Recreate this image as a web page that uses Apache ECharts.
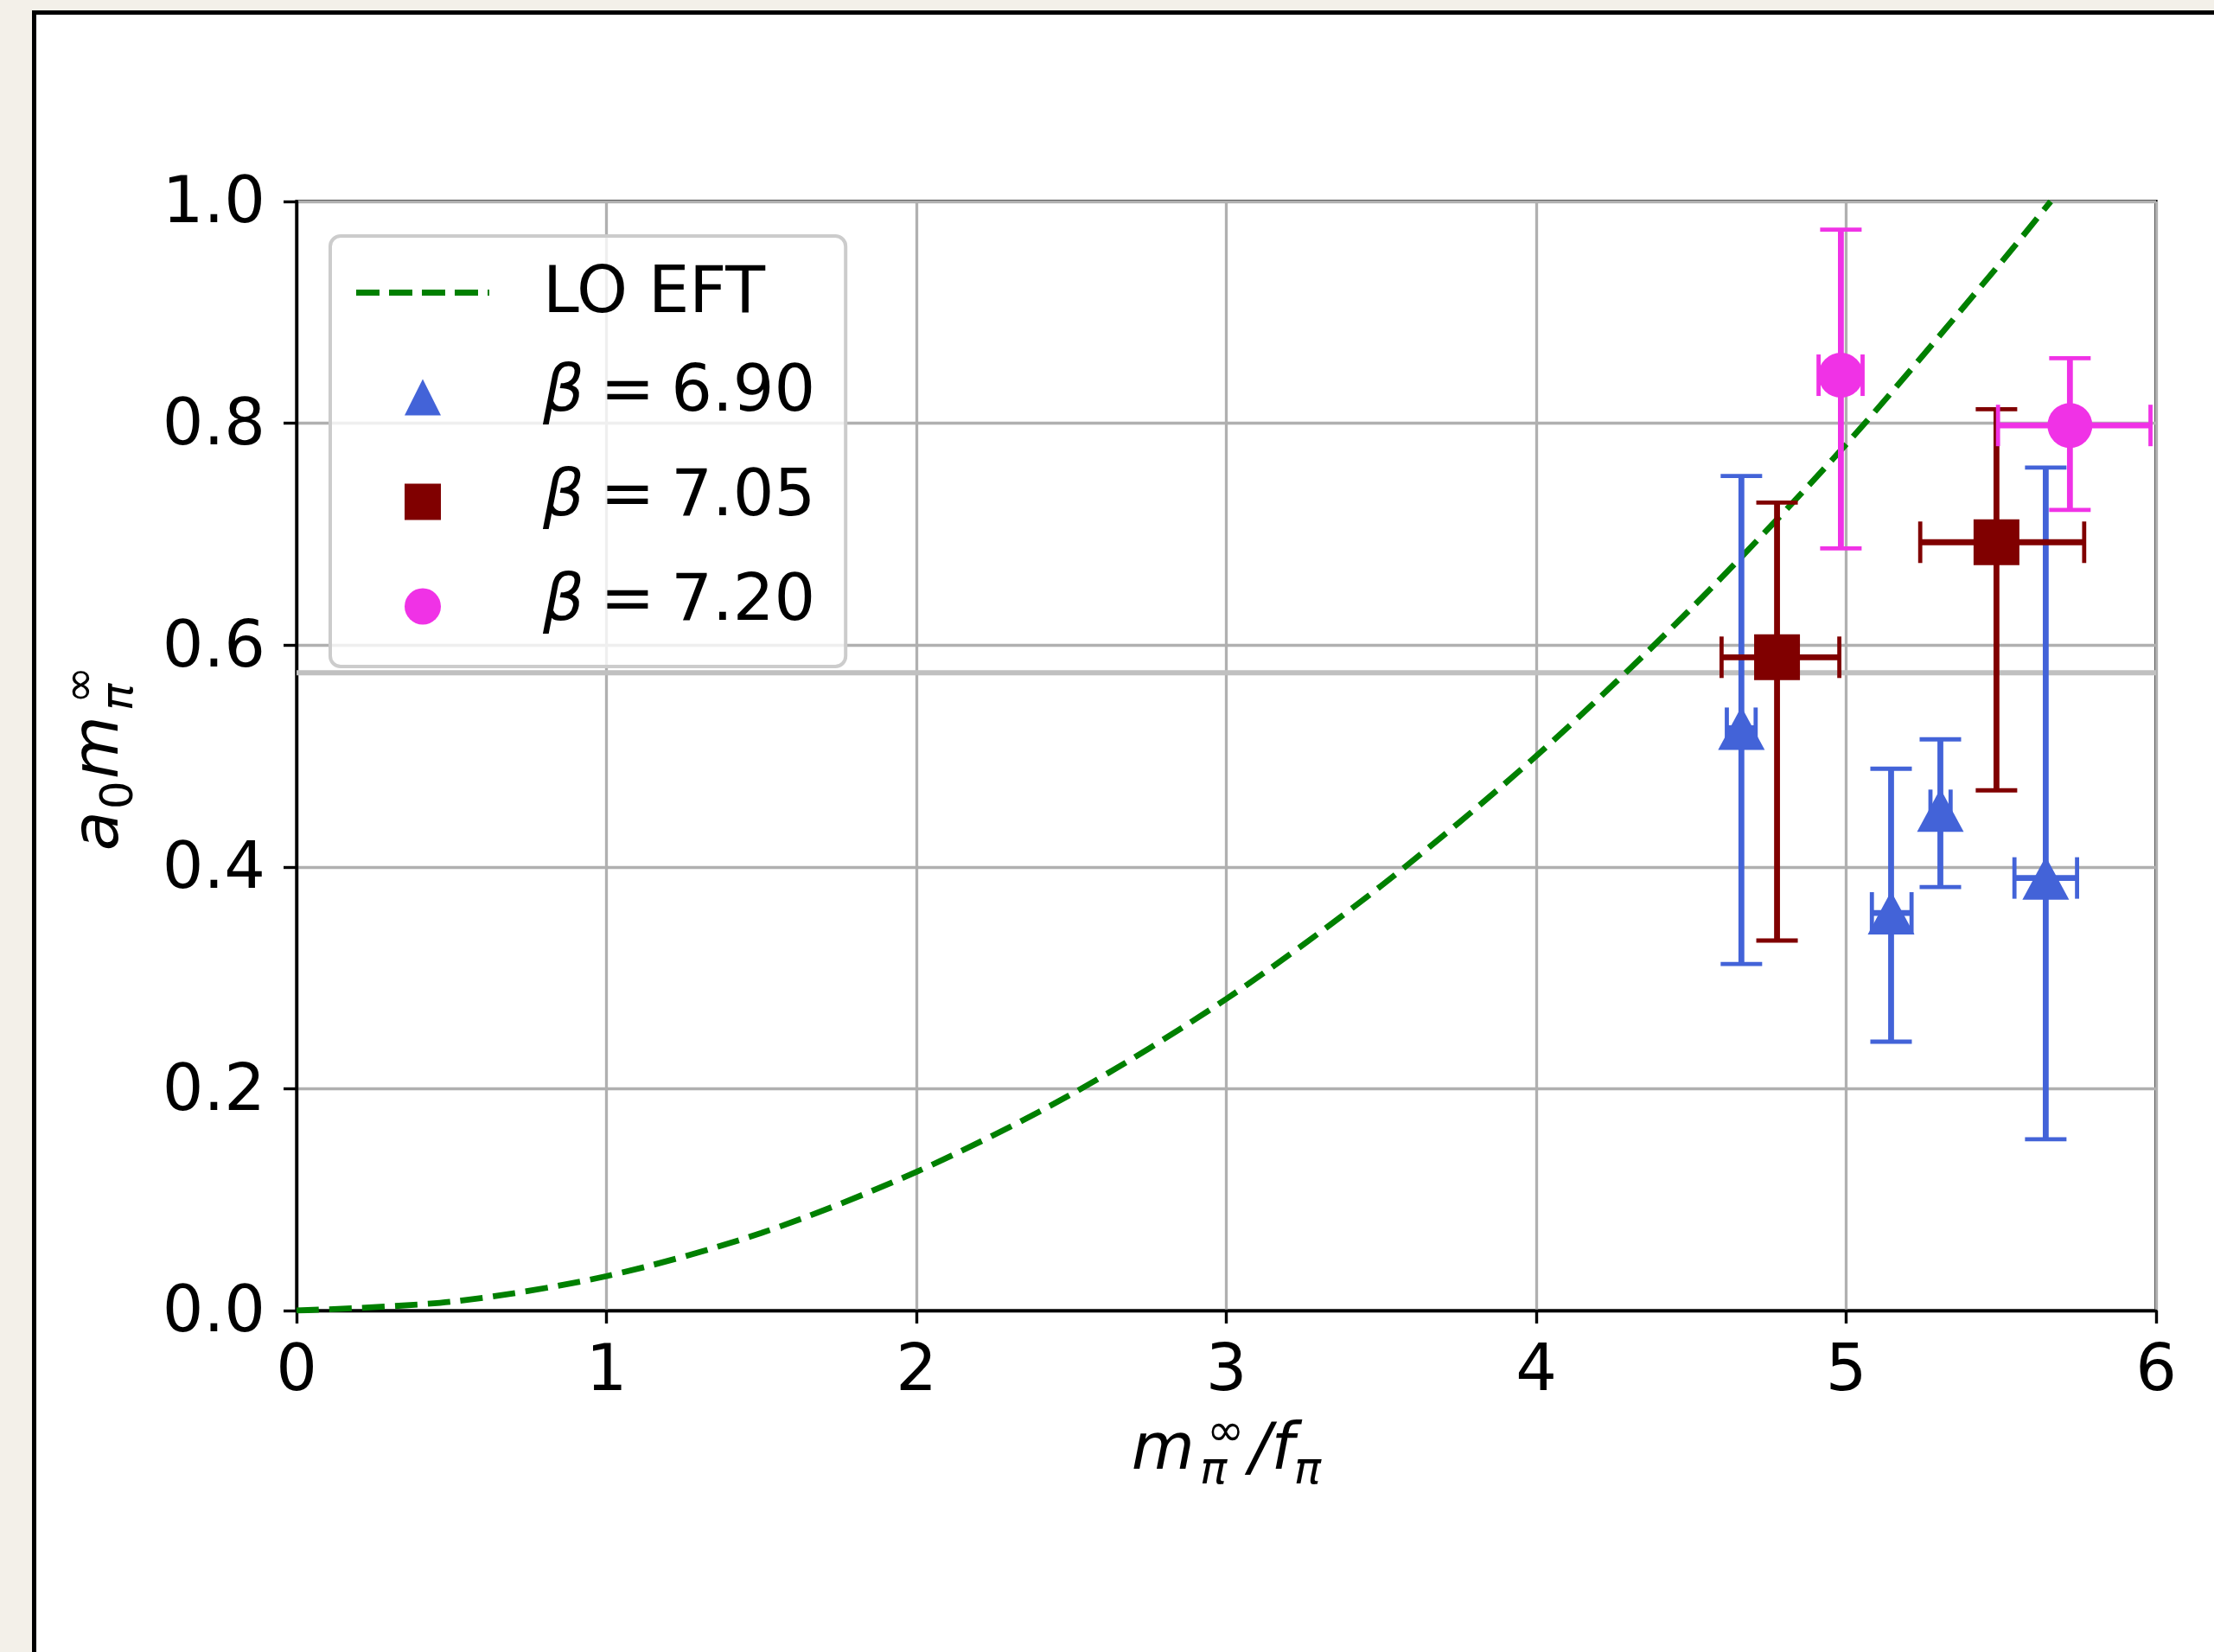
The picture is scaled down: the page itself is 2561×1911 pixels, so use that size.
<!DOCTYPE html>
<html><head><meta charset="utf-8">
<script src="https://cdn.jsdelivr.net/npm/echarts@6/dist/echarts.min.js"></script>
<style>
html,body{margin:0;padding:0;width:2561px;height:1911px;overflow:hidden;background:#f3f0e9;}
#card{position:absolute;left:37px;top:12px;width:2600px;height:2000px;background:#fff;border-top:5px solid #000;border-left:5px solid #000;box-sizing:border-box;}
#chart{position:absolute;left:0;top:0;width:2561px;height:1911px;}
</style></head><body><div id="card"></div><div id="chart"></div>
<script>
// ---- data ----
const xTicks = [0, 1, 2, 3, 4, 5, 6];
const yTickLabels = ['0.0', '0.2', '0.4', '0.6', '0.8', '1.0'];
const seriesNames = ['LO EFT', 'β = 6.90', 'β = 7.05', 'β = 7.20'];

// LO EFT curve
const curveX = [0, 0.5, 1.0, 1.5, 2.0, 2.5, 3.0, 3.5, 4.0, 4.5, 5.0, 5.5, 5.66];
const curveY = [0, 0.008, 0.031, 0.070, 0.125, 0.195, 0.281, 0.383, 0.500, 0.633, 0.781, 0.945, 1.000];

// horizontal reference line
const refLine = 0.575;

// beta = 6.90
const b690X   = [4.662, 5.145, 5.304, 5.644];
const b690Y   = [0.525, 0.3585, 0.451, 0.390];
const b690XLo = [4.615, 5.083, 5.272, 5.543];
const b690XHi = [4.708, 5.211, 5.337, 5.745];
const b690YLo = [0.3125, 0.2424, 0.3818, 0.1545];
const b690YHi = [0.7525, 0.4885, 0.515, 0.760];

// beta = 7.05
const b705X   = [4.777, 5.485];
const b705Y   = [0.589, 0.6927];
const b705XLo = [4.598, 5.239];
const b705XHi = [4.978, 5.768];
const b705YLo = [0.3336, 0.469];
const b705YHi = [0.7285, 0.8127];

// beta = 7.20
const b720X   = [4.983, 5.722];
const b720Y   = [0.8433, 0.798];
const b720XLo = [4.911, 5.490];
const b720XHi = [5.053, 5.982];
const b720YLo = [0.6871, 0.7219];
const b720YHi = [0.9745, 0.8586];

// ---- styling ----
const FONT = 'DejaVu Sans';
const BLUE = '#4363d8', MAROON = '#800000', MAGENTA = '#f032e6', GREEN = '#008000';

function rows(X, Y, XL, XH, YL, YH) {
  return X.map((x, i) => [x, Y[i], XL[i], XH[i], YL[i], YH[i]]);
}
function pts(X, Y) { return X.map((x, i) => [x, Y[i]]); }

function errRender(color) {
  return function (params, api) {
    const x = api.value(0), y = api.value(1);
    const pl = api.coord([api.value(2), y]), pr = api.coord([api.value(3), y]);
    const pb = api.coord([x, api.value(4)]), pt = api.coord([x, api.value(5)]);
    const h = 24;
    const ls = { stroke: color, lineWidth: 6.8, fill: null };
    const cs = { stroke: color, lineWidth: 4.8, fill: null };
    return {
      type: 'group',
      children: [
        { type: 'line', shape: { x1: pb[0], y1: pb[1], x2: pt[0], y2: pt[1] }, style: ls },
        { type: 'line', shape: { x1: pl[0], y1: pl[1], x2: pr[0], y2: pr[1] }, style: ls },
        { type: 'line', shape: { x1: pt[0] - h, y1: pt[1], x2: pt[0] + h, y2: pt[1] }, style: cs },
        { type: 'line', shape: { x1: pb[0] - h, y1: pb[1], x2: pb[0] + h, y2: pb[1] }, style: cs },
        { type: 'line', shape: { x1: pl[0], y1: pl[1] - h, x2: pl[0], y2: pl[1] + h }, style: cs },
        { type: 'line', shape: { x1: pr[0], y1: pr[1] - h, x2: pr[0], y2: pr[1] + h }, style: cs }
      ]
    };
  };
}

const mathRich = {
  i: { fontFamily: FONT, fontStyle: 'italic', fontSize: 75, lineHeight: 80, align: 'left', color: '#000' },
  s: { fontFamily: FONT, fontSize: 52, lineHeight: 80, align: 'left', padding: [44, 2, 0, 2], color: '#000' },
  si: { fontFamily: FONT, fontStyle: 'italic', fontSize: 52, lineHeight: 80, align: 'left', padding: [44, 0, 0, 0], color: '#000' },
  z: { fontFamily: FONT, fontStyle: 'italic', fontSize: 52, lineHeight: 80, align: 'left', width: 0, padding: [44, 0, 0, 6], color: '#000' },
  p: { fontFamily: FONT, fontSize: 52, lineHeight: 80, align: 'left', padding: [0, 6, 44, 8], color: '#000' }
};

const chart = echarts.init(document.getElementById('chart'), null, { renderer: 'canvas' });
chart.setOption({
  animation: false,
  backgroundColor: 'transparent',
  textStyle: { fontFamily: FONT },
  grid: {
    left: 343, right: 67, top: 233, bottom: 395,
    show: true, borderColor: '#000', borderWidth: 3.4, backgroundColor: 'transparent',
    containLabel: false, outerBoundsMode: 'none'
  },
  legend: {
    orient: 'vertical',
    left: 382, top: 273,
    data: [
      { name: seriesNames[0], icon: 'path://M0,0h27v7h-27zM38,0h27v7h-27zM76,0h27v7h-27zM114,0h27v7h-27zM152,0h2v7h-2z' },
      { name: seriesNames[1], icon: 'path://M21,0L42,42L0,42Z' },
      { name: seriesNames[2], icon: 'path://M0,0H42V42H0Z' },
      { name: seriesNames[3], icon: 'path://M21,0A21,21,0,1,1,21,42A21,21,0,1,1,21,0Z' }
    ],
    itemWidth: 154, itemHeight: 42, itemGap: 32,
    padding: [21, 35, 25, 30],
    backgroundColor: 'rgba(255,255,255,0.8)',
    borderColor: '#cccccc', borderWidth: 4, borderRadius: 12,
    itemStyle: { borderWidth: 0 },
    selectedMode: false,
    formatter: function (name) {
      if (name.charAt(0) === 'β') return '{b|β}{n|' + name.slice(1).replace(/ /g, '\u2005') + '}';
      return '{l|' + name + '}';
    },
    textStyle: {
      fontFamily: FONT, fontSize: 75, lineHeight: 80, color: '#000',
      padding: [0, 0, 0, 57],
      rich: {
        l: { fontFamily: FONT, fontSize: 75, lineHeight: 80, padding: [10, 0, 4, 0], color: '#000' },
        b: { fontFamily: FONT, fontStyle: 'italic', fontSize: 75, lineHeight: 80, padding: [3, 0, 11, 0], color: '#000' },
        n: { fontFamily: FONT, fontSize: 75, lineHeight: 80, padding: [3, 0, 11, 0], color: '#000' }
      }
    }
  },
  xAxis: {
    type: 'value', min: xTicks[0], max: xTicks[xTicks.length - 1], interval: 1,
    name: '{i|m}{z|π}{p|∞}{i|/f}{si|π}',
    nameLocation: 'middle', nameGap: 124,
    nameTextStyle: { fontFamily: FONT, fontSize: 75, lineHeight: 80, color: '#000', rich: mathRich },
    axisLine: { show: true, onZero: false, lineStyle: { color: '#000', width: 3.4 } },
    axisTick: { show: true, inside: false, length: 15, lineStyle: { color: '#000', width: 3.4 } },
    axisLabel: { show: true, margin: 35, fontFamily: FONT, fontSize: 75, color: '#000', showMinLabel: true, showMaxLabel: true, hideOverlap: false,
      formatter: v => String(xTicks[Math.round(v)]) },
    splitLine: { show: true, lineStyle: { color: '#b0b0b0', width: 3.3 } }
  },
  yAxis: {
    type: 'value', min: 0, max: 1, interval: 0.2,
    name: '{i|a}{s|0}{i|m}{z|π}{p|∞}',
    nameLocation: 'middle', nameGap: 186, nameRotate: 90,
    nameTextStyle: { fontFamily: FONT, fontSize: 75, lineHeight: 80, color: '#000', rich: mathRich },
    axisLine: { show: true, onZero: false, lineStyle: { color: '#000', width: 3.4 } },
    axisTick: { show: true, inside: false, length: 15, lineStyle: { color: '#000', width: 3.4 } },
    axisLabel: { show: true, margin: 36, fontFamily: FONT, fontSize: 75, color: '#000', showMinLabel: true, showMaxLabel: true, hideOverlap: false,
      formatter: v => '{v|' + yTickLabels[Math.round(v * 5)] + '}',
      rich: { v: { fontFamily: FONT, fontSize: 75, lineHeight: 80, padding: [10, 0, 0, 0], color: '#000' } } },
    splitLine: { show: true, lineStyle: { color: '#b0b0b0', width: 3.3 } }
  },
  series: [
    {
      name: 'ref', type: 'line', data: [[xTicks[0], refLine], [xTicks[xTicks.length - 1], refLine]],
      symbol: 'none', silent: true, lineStyle: { color: '#c0c0c0', width: 6 }, z: 2
    },
    {
      name: seriesNames[0], type: 'line', data: pts(curveX, curveY), smooth: 0.3,
      symbol: 'none', color: GREEN, itemStyle: { color: GREEN },
      lineStyle: { color: GREEN, width: 6.8, type: [26, 12] }, z: 2
    },
    { name: 'err690', type: 'custom', renderItem: errRender(BLUE), data: rows(b690X, b690Y, b690XLo, b690XHi, b690YLo, b690YHi), z: 3, silent: true },
    { name: 'err705', type: 'custom', renderItem: errRender(MAROON), data: rows(b705X, b705Y, b705XLo, b705XHi, b705YLo, b705YHi), z: 3, silent: true },
    { name: 'err720', type: 'custom', renderItem: errRender(MAGENTA), data: rows(b720X, b720Y, b720XLo, b720XHi, b720YLo, b720YHi), z: 3, silent: true },
    { name: seriesNames[1], type: 'scatter', data: pts(b690X, b690Y), symbol: 'triangle', symbolSize: [54, 50], itemStyle: { color: BLUE, opacity: 1 }, z: 4 },
    { name: seriesNames[2], type: 'scatter', data: pts(b705X, b705Y), symbol: 'rect', symbolSize: 53, itemStyle: { color: MAROON, opacity: 1 }, z: 4 },
    { name: seriesNames[3], type: 'scatter', data: pts(b720X, b720Y), symbol: 'circle', symbolSize: 52, itemStyle: { color: MAGENTA, opacity: 1 }, z: 4 }
  ]
});
</script></body></html>
